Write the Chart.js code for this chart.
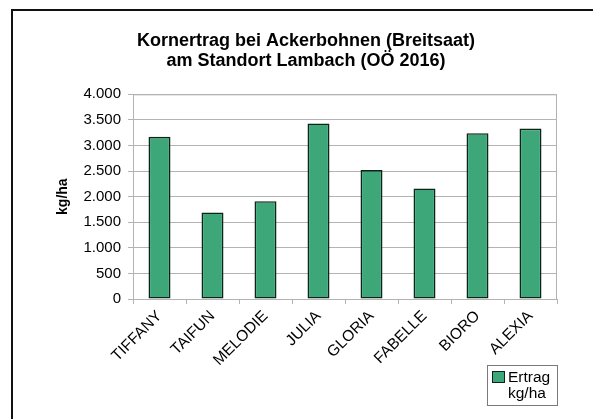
<!DOCTYPE html>
<html>
<head>
<meta charset="utf-8">
<script src="https://cdn.jsdelivr.net/npm/chart.js@4/dist/chart.umd.min.js"></script>
<style>
  html, body { margin: 0; padding: 0; background: #fff; overflow: hidden; width: 593px; height: 419px; }
  #frame { position: absolute; left: 11px; top: 9px; border-left: 2px solid #111; border-top: 2px solid #111; }
  #box { position: relative; width: 592px; height: 410px; }
</style>
</head>
<body>
<div id="frame"><div id="box"><canvas id="c"></canvas></div></div>
<script>
// ---- data ----
const categories = ['TIFFANY', 'TAIFUN', 'MELODIE', 'JULIA', 'GLORIA', 'FABELLE', 'BIORO', 'ALEXIA'];
const ertrag = [3170, 1690, 1910, 3430, 2520, 2160, 3240, 3330];
const seriesLabel = ['Ertrag', 'kg/ha'];
const titleLines = ['Kornertrag bei Ackerbohnen (Breitsaat)', 'am Standort Lambach (OÖ 2016)'];
const yAxisTitle = 'kg/ha';
const yMin = 0, yMax = 4000, yStep = 500;

const FONT = "'Liberation Sans', Arial, sans-serif";
Chart.defaults.font.family = FONT;
Chart.defaults.color = '#000';

const barFill = '#3da77a';
const barEdge = '#0f2419';
const gridCol = '#b3b3b3';

function fmt(v) {
  return String(v).replace(/\B(?=(\d{3})+(?!\d))/g, '.');
}

const frameAndLegend = {
  id: 'frameAndLegend',
  beforeDatasetsDraw(chart) {
    const { ctx, chartArea: a } = chart;
    ctx.save();
    ctx.strokeStyle = gridCol;
    ctx.lineWidth = 1;
    ctx.beginPath();
    ctx.moveTo(a.left, a.top + 0.5);
    ctx.lineTo(a.right - 0.5, a.top + 0.5);
    ctx.lineTo(a.right - 0.5, a.bottom);
    ctx.stroke();
    ctx.restore();
  },
  afterDraw(chart) {
    const { ctx, chartArea: a } = chart;
    const ds = chart.data.datasets[0];
    const lines = ds.label.split(' ');
    const x0 = a.right - 70, y0 = 354, w = 70, h = 40;
    ctx.save();
    ctx.strokeStyle = '#7a7a7a';
    ctx.lineWidth = 1;
    ctx.strokeRect(x0 + 0.5, y0 + 0.5, w, h);
    ctx.fillStyle = ds.backgroundColor;
    ctx.fillRect(x0 + 5.5, y0 + 6.5, 12, 11);
    ctx.strokeStyle = ds.borderColor;
    ctx.strokeRect(x0 + 5.5, y0 + 6.5, 12, 11);
    ctx.fillStyle = '#000';
    ctx.font = '15.5px ' + FONT;
    ctx.textBaseline = 'alphabetic';
    ctx.textAlign = 'left';
    ctx.fillText(lines[0], x0 + 21, y0 + 17);
    ctx.fillText(lines[1], x0 + 21, y0 + 33);
    ctx.restore();
  }
};

new Chart(document.getElementById('c'), {
  type: 'bar',
  data: {
    labels: categories,
    datasets: [{
      label: seriesLabel.join(' '),
      data: ertrag,
      backgroundColor: barFill,
      borderColor: barEdge,
      borderWidth: 1.6,
      borderSkipped: false,
      categoryPercentage: 0.415,
      barPercentage: 1
    }]
  },
  options: {
    responsive: true,
    maintainAspectRatio: false,
    animation: false,
    layout: { padding: { left: 42, right: 48, top: 0, bottom: 0 } },
    plugins: {
      legend: { display: false },
      tooltip: { enabled: false },
      title: {
        display: true,
        text: titleLines,
        color: '#000',
        font: { size: 18, weight: 'bold', lineHeight: 1.12 },
        padding: { top: 20, bottom: 23 }
      }
    },
    scales: {
      x: {
        afterFit(s) { s.height = 122; },
        grid: { display: true, drawOnChartArea: false, color: gridCol, tickLength: 5, offset: true },
        border: { color: gridCol },
        ticks: { autoSkip: false, maxRotation: 45, minRotation: 45, padding: 3, color: '#000', font: { size: 15.5 } }
      },
      y: {
        min: yMin, max: yMax,
        afterFit(s) { s.width = 78; },
        grid: { color: gridCol, tickLength: 5 },
        border: { color: gridCol },
        ticks: { stepSize: yStep, padding: 7, color: '#000', font: { size: 15 }, callback: v => fmt(v) },
        title: { display: true, text: yAxisTitle, color: '#000', font: { size: 14, weight: 'bold' }, padding: 0 }
      }
    }
  },
  plugins: [frameAndLegend]
});
</script>
</body>
</html>
